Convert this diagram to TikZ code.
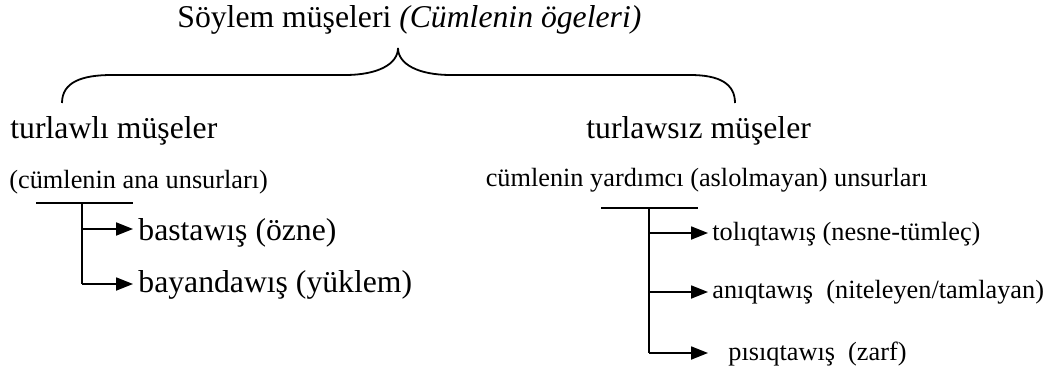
\documentclass[tikz,border=0pt]{standalone}
\usepackage{fontspec}
\setmainfont{Liberation Serif}
\usetikzlibrary{arrows.meta}

\begin{document}
\begin{tikzpicture}[x=0.5pt,y=-0.5pt,
   bigtext/.style={inner sep=0pt,anchor=base west,font=\fontsize{15.85}{19}\selectfont},
   smalltext/.style={inner sep=0pt,anchor=base west,font=\fontsize{13.15}{16}\selectfont},
   bar/.style={line width=1.4pt},
   stem/.style={line width=0.9pt},
   branch/.style={line width=0.9pt,-{Triangle[length=8.5pt,width=6.5pt]},shorten >=2.5pt}]
   \useasboundingbox (0,0) rectangle (1054,374);
   \node[bigtext] (title) at (177,28) {Söylem müşeleri \textit{(Cümlenin ögeleri)}};
   \node[bigtext] (tl) at (10,139) {turlawlı müşeler};
   \node[bigtext] (ts) at (586,139) {turlawsız müşeler};
   \node[smalltext] (ana) at (9,188) {(cümlenin ana unsurları)};
   \node[smalltext,anchor=base east] (yard) at (928,186) {cümlenin yardımcı (aslolmayan) unsurları};
   \node[bigtext] (bas) at (138,240) {bastawış (özne)};
   \node[bigtext] (bay) at (138,292) {bayandawış (yüklem)};
   \node[smalltext] (tol) at (712,240) {tolıqtawış (nesne-tümleç)};
   \node[smalltext] (anq) at (712,298) {anıqtawış\ \ (niteleyen/tamlayan)};
   \node[smalltext] (pis) at (728,360) {pısıqtawış\ \ (zarf)};
   \coordinate (bl) at (62,103);
   \coordinate (br) at (735,103);
   \coordinate (cusp) at (398,48);
   \draw[line width=0.9pt] (bl) .. controls (62,82) and (82,75) .. (112,75) -- (345,75)
      .. controls (378,75) and (398,64) .. (cusp)
      .. controls (398,64) and (418,75) .. (451,75) -- (690,75)
      .. controls (720,75) and (735,84) .. (br);
   \coordinate (la) at (36,203);
   \coordinate (lb) at (133,203);
   \coordinate (lt) at (82,203);
   \coordinate (l1) at (82,229);
   \coordinate (l2) at (82,284);
   \draw[bar] (la) -- (lb);
   \draw[stem] (lt) -- (l2);
   \draw[branch] (l1) -- (l1 -| bas.west);
   \draw[branch] (l2) -- (l2 -| bay.west);
   \coordinate (ra) at (601,208);
   \coordinate (rb) at (698,208);
   \coordinate (rt) at (649,208);
   \coordinate (r1) at (649,233);
   \coordinate (r2) at (649,292);
   \coordinate (r3) at (649,353);
   \draw[bar] (ra) -- (rb);
   \draw[stem] (rt) -- (r3);
   \draw[branch,shorten >=2pt] (r1) -- (r1 -| tol.west);
   \draw[branch,shorten >=2pt] (r2) -- (r2 -| anq.west);
   \draw[branch,shorten >=10pt] (r3) -- (r3 -| pis.west);
\end{tikzpicture}
\end{document}
